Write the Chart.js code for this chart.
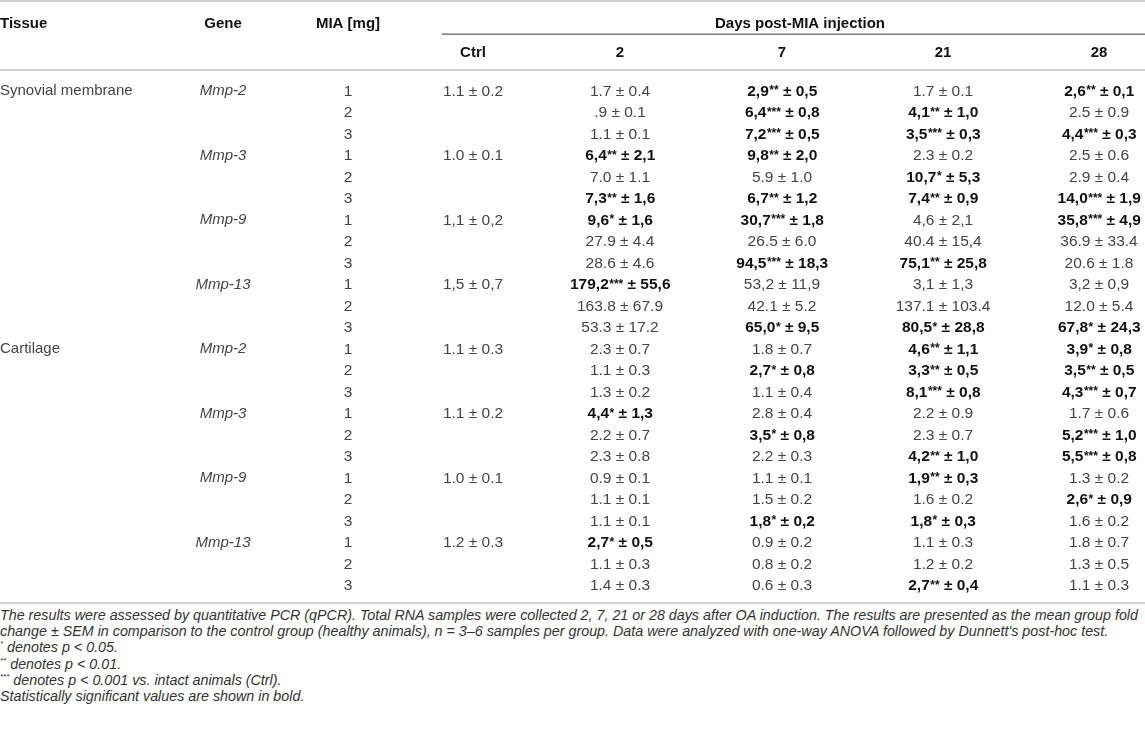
<!DOCTYPE html>
<html>
<head>
<meta charset="utf-8">
<script src="https://cdn.jsdelivr.net/npm/chart.js@4.4.1/dist/chart.umd.min.js"></script>
<style>
  html, body { margin: 0; padding: 0; background: #fff; }
  #wrap { position: relative; width: 1145px; height: 606px; }
  .notes {
    font-family: "Liberation Sans", Arial, sans-serif;
    font-style: italic;
    font-size: 14.3px;
    line-height: 16.2px;
    color: #333;
    margin: 0;
    padding: 1px 0 0 0;
    white-space: nowrap;
  }
  .notes sup { font-size: 8px; vertical-align: 6px; line-height: 0; }
</style>
</head>
<body>
<div id="wrap"><canvas id="tbl" width="1145" height="606"></canvas></div>
<div class="notes">
The results were assessed by quantitative PCR (qPCR). Total RNA samples were collected 2, 7, 21 or 28 days after OA induction. The results are presented as the mean group fold<br>
change ± SEM in comparison to the control group (healthy animals), n = 3–6 samples per group. Data were analyzed with one-way ANOVA followed by Dunnett's post-hoc test.<br>
<sup>*</sup> denotes p &lt; 0.05.<br>
<sup>**</sup> denotes p &lt; 0.01.<br>
<sup>***</sup> denotes p &lt; 0.001 vs. intact animals (Ctrl).<br>
Statistically significant values are shown in bold.
</div>
<script>
// Table content
const tissues = ["Synovial membrane", "Cartilage"];
const genes = ["Mmp-2", "Mmp-3", "Mmp-9", "Mmp-13"];
const doses = ["1", "2", "3"];
const topHeaders = ["Tissue", "Gene", "MIA [mg]", "Days post-MIA injection"];
const dayHeaders = ["Ctrl", "2", "7", "21", "28"];

// one ctrl value per tissue/gene block
const ctrlValues = [
  "1.1 ± 0.2", "1.0 ± 0.1", "1,1 ± 0,2", "1,5 ± 0,7",
  "1.1 ± 0.3", "1.1 ± 0.2", "1.0 ± 0.1", "1.2 ± 0.3"
];

// stars mark significant (bold) values
const day2 = [
  "1.7 ± 0.4", ".9 ± 0.1", "1.1 ± 0.1",
  "6,4** ± 2,1", "7.0 ± 1.1", "7,3** ± 1,6",
  "9,6* ± 1,6", "27.9 ± 4.4", "28.6 ± 4.6",
  "179,2*** ± 55,6", "163.8 ± 67.9", "53.3 ± 17.2",
  "2.3 ± 0.7", "1.1 ± 0.3", "1.3 ± 0.2",
  "4,4* ± 1,3", "2.2 ± 0.7", "2.3 ± 0.8",
  "0.9 ± 0.1", "1.1 ± 0.1", "1.1 ± 0.1",
  "2,7* ± 0,5", "1.1 ± 0.3", "1.4 ± 0.3"
];
const day7 = [
  "2,9** ± 0,5", "6,4*** ± 0,8", "7,2*** ± 0,5",
  "9,8** ± 2,0", "5.9 ± 1.0", "6,7** ± 1,2",
  "30,7*** ± 1,8", "26.5 ± 6.0", "94,5*** ± 18,3",
  "53,2 ± 11,9", "42.1 ± 5.2", "65,0* ± 9,5",
  "1.8 ± 0.7", "2,7* ± 0,8", "1.1 ± 0.4",
  "2.8 ± 0.4", "3,5* ± 0,8", "2.2 ± 0.3",
  "1.1 ± 0.1", "1.5 ± 0.2", "1,8* ± 0,2",
  "0.9 ± 0.2", "0.8 ± 0.2", "0.6 ± 0.3"
];
const day21 = [
  "1.7 ± 0.1", "4,1** ± 1,0", "3,5*** ± 0,3",
  "2.3 ± 0.2", "10,7* ± 5,3", "7,4** ± 0,9",
  "4,6 ± 2,1", "40.4 ± 15,4", "75,1** ± 25,8",
  "3,1 ± 1,3", "137.1 ± 103.4", "80,5* ± 28,8",
  "4,6** ± 1,1", "3,3** ± 0,5", "8,1*** ± 0,8",
  "2.2 ± 0.9", "2.3 ± 0.7", "4,2** ± 1,0",
  "1,9** ± 0,3", "1.6 ± 0.2", "1,8* ± 0,3",
  "1.1 ± 0.3", "1.2 ± 0.2", "2,7** ± 0,4"
];
const day28 = [
  "2,6** ± 0,1", "2.5 ± 0.9", "4,4*** ± 0,3",
  "2.5 ± 0.6", "2.9 ± 0.4", "14,0*** ± 1,9",
  "35,8*** ± 4,9", "36.9 ± 33.4", "20.6 ± 1.8",
  "3,2 ± 0,9", "12.0 ± 5.4", "67,8* ± 24,3",
  "3,9* ± 0,8", "3,5** ± 0,5", "4,3*** ± 0,7",
  "1.7 ± 0.6", "5,2*** ± 1,0", "5,5*** ± 0,8",
  "1.3 ± 0.2", "2,6* ± 0,9", "1.6 ± 0.2",
  "1.8 ± 0.7", "1.3 ± 0.5", "1.1 ± 0.3"
];

// layout (pixels)
const W = 1145, H = 606;
const ROW_H = 21.5, FIRST_ROW = 90;
const COL_X = [0, 223, 348, 473, 620, 782, 943, 1099];
const DAYS_X = 800;
const HEAD_ROW = -3.15, SUB_ROW = -1.78;
const LINE_TOP = -4.14, LINE_MID = -2.6, LINE_HEAD = -0.93, LINE_BOTTOM = 23.86;
const DAYS_LINE_FROM = 442;

const FONT = '"Liberation Sans", Arial, sans-serif';
const NORMAL_COLOR = "#444";
const BOLD_COLOR = "#111";
const VALUE_SIZE = 15.5;

const dayCols = [day2, day7, day21, day28];
const nRows = day2.length;

// build cells
const bodyCells = [];
for (let r = 0; r < nRows; r++) {
  const block = Math.floor(r / 3);
  if (r % 12 === 0) bodyCells.push({ x: COL_X[0], y: r, text: tissues[r / 12], kind: "left" });
  if (r % 3 === 0) {
    bodyCells.push({ x: COL_X[1], y: r, text: genes[block % 4], kind: "gene" });
    bodyCells.push({ x: COL_X[3], y: r, text: ctrlValues[block], kind: "value" });
  }
  bodyCells.push({ x: COL_X[2], y: r, text: doses[r % 3], kind: "value" });
  dayCols.forEach((col, c) => {
    bodyCells.push({ x: COL_X[4 + c], y: r, text: col[r], kind: "value" });
  });
}

const headCells = [
  { x: COL_X[0], y: HEAD_ROW, text: topHeaders[0], kind: "headLeft" },
  { x: COL_X[1], y: HEAD_ROW, text: topHeaders[1], kind: "head" },
  { x: COL_X[2], y: HEAD_ROW, text: topHeaders[2], kind: "head" },
  { x: DAYS_X, y: HEAD_ROW, text: topHeaders[3], kind: "head" }
];
dayHeaders.forEach((d, i) => {
  headCells.push({ x: COL_X[3 + i], y: SUB_ROW, text: d, kind: "head" });
});

function drawValue(ctx, text, cx, cy) {
  const m = text.match(/^(.*?)(\*+)?(\s±\s.*)?$/);
  const main = m[1], stars = m[2] || "", rest = m[3] || "";
  const bold = stars.length > 0;
  const bigFont = (bold ? "bold " : "") + VALUE_SIZE + "px " + FONT;
  const smallFont = "bold 12px " + FONT;
  ctx.font = bigFont;
  const w1 = ctx.measureText(main).width;
  const w3 = ctx.measureText(rest).width;
  ctx.font = smallFont;
  const w2 = stars ? ctx.measureText(stars).width : 0;
  let x = cx - (w1 + w2 + w3) / 2;
  const base = cy + 5.6;
  ctx.textAlign = "left";
  ctx.textBaseline = "alphabetic";
  ctx.fillStyle = bold ? BOLD_COLOR : NORMAL_COLOR;
  ctx.font = bigFont;
  ctx.fillText(main, x, base);
  x += w1;
  if (stars) {
    ctx.font = smallFont;
    ctx.fillText(stars, x + 0.5, base - 1.5);
    x += w2 + 0.5;
  }
  ctx.font = bigFont;
  ctx.fillText(rest, x, base);
}

// labels share the value baseline so rows line up
function drawLabel(ctx, text, x, y, font, color, align) {
  ctx.font = font;
  ctx.fillStyle = color;
  ctx.textAlign = align;
  ctx.textBaseline = "alphabetic";
  ctx.fillText(text, x, y + 5.4);
}

const tablePlugin = {
  id: "tablePlugin",
  beforeDatasetsDraw(chart) {
    const { ctx, scales } = chart;
    const hline = (v, from, to, color, width) => {
      const y = scales.y.getPixelForValue(v);
      ctx.save();
      ctx.strokeStyle = color;
      ctx.lineWidth = width;
      ctx.beginPath();
      ctx.moveTo(scales.x.getPixelForValue(from), y);
      ctx.lineTo(scales.x.getPixelForValue(to), y);
      ctx.stroke();
      ctx.restore();
    };
    hline(LINE_TOP, 0, W, "#d0d0d0", 2);
    hline(LINE_MID, DAYS_LINE_FROM, W, "#333", 1);
    hline(LINE_HEAD, 0, W, "#d0d0d0", 2);
    hline(LINE_BOTTOM, 0, W, "#d0d0d0", 2);
  },
  afterDatasetsDraw(chart) {
    const ctx = chart.ctx;
    chart.data.datasets.forEach((ds, di) => {
      const meta = chart.getDatasetMeta(di);
      meta.data.forEach((el, i) => {
        const cell = ds.data[i];
        ctx.save();
        if (cell.kind === "value") {
          drawValue(ctx, cell.text, el.x, el.y);
        } else if (cell.kind === "left") {
          drawLabel(ctx, cell.text, el.x, el.y, "15px " + FONT, NORMAL_COLOR, "left");
        } else if (cell.kind === "gene") {
          drawLabel(ctx, cell.text, el.x, el.y, "italic 15px " + FONT, NORMAL_COLOR, "center");
        } else {
          drawLabel(ctx, cell.text, el.x, el.y, "bold 15px " + FONT, BOLD_COLOR,
            cell.kind === "headLeft" ? "left" : "center");
        }
        ctx.restore();
      });
    });
  }
};

const yMin = -FIRST_ROW / ROW_H;
const yMax = yMin + H / ROW_H;

new Chart(document.getElementById("tbl"), {
  type: "scatter",
  data: {
    datasets: [
      { label: "body", data: bodyCells, pointRadius: 0 },
      { label: "head", data: headCells, pointRadius: 0 }
    ]
  },
  options: {
    responsive: false,
    animation: false,
    events: [],
    layout: { padding: 0 },
    plugins: { legend: { display: false }, tooltip: { enabled: false } },
    scales: {
      x: { type: "linear", display: false, min: 0, max: W },
      y: { type: "linear", display: false, min: yMin, max: yMax, reverse: true }
    }
  },
  plugins: [tablePlugin]
});
</script>
</body>
</html>
